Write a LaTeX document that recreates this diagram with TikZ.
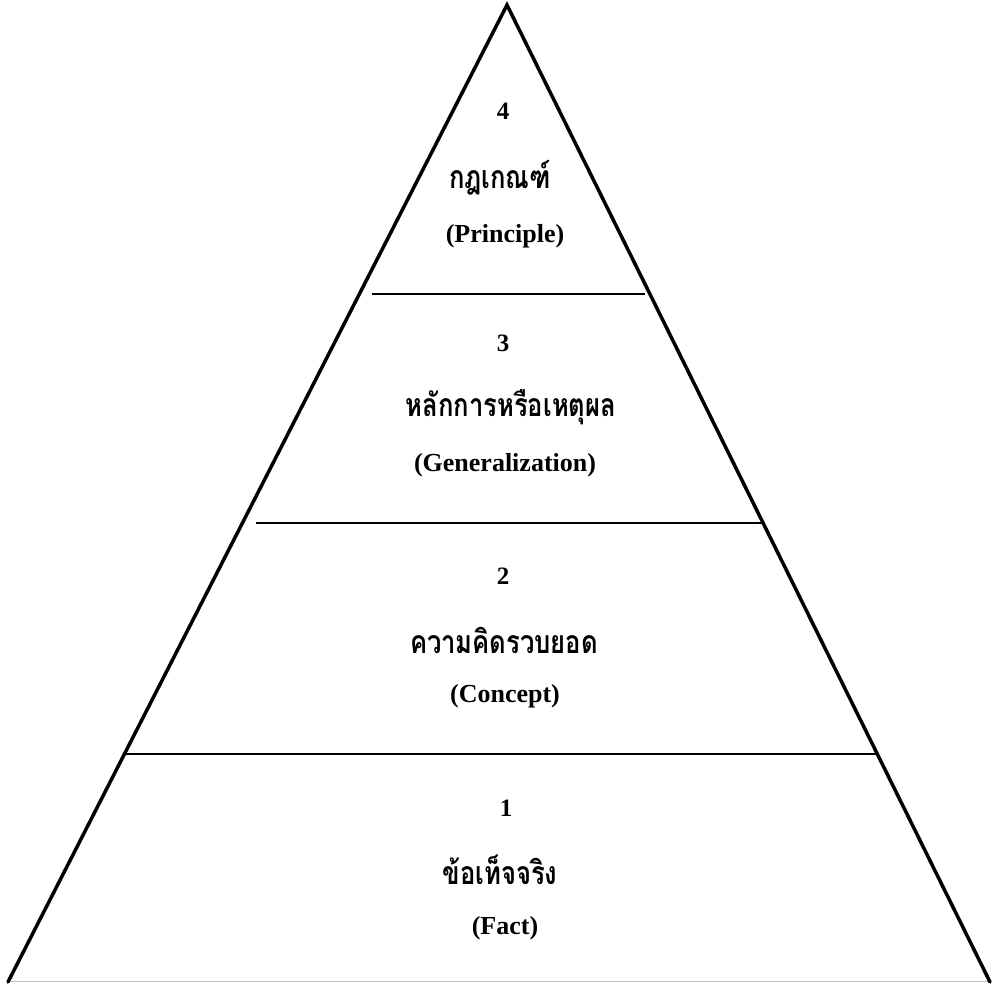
\documentclass[tikz,border=0pt]{standalone}
\usepackage{fontspec}
\setmainfont{Liberation Serif}
\newfontfamily\thaifont[Script=Thai,FakeStretch=0.8]{Loma}
\begin{document}
\begin{tikzpicture}[x=1pt,y=1pt,
  side/.style={line width=3.5pt,line join=miter,line cap=round},
  level/.style={line width=2.6pt},
  baseline/.style={line width=1pt,draw=black!25},
  num/.style={font=\fontsize{25}{28}\selectfont\bfseries,inner sep=0pt},
  thai/.style={font=\fontsize{32}{36}\selectfont\thaifont\bfseries,inner sep=0pt},
  eng/.style={font=\fontsize{26}{30}\selectfont\bfseries,inner sep=0pt}]
\useasboundingbox (0,0) rectangle (993,984);
\coordinate (apex) at (507,979);
\coordinate (bl) at (8,2);
\coordinate (br) at (990,2);
\draw[baseline] (bl) -- (br);
\draw[side] (bl) -- (apex) -- (br);
\coordinate (l4a) at (372,690); \coordinate (l4b) at (645,690);
\coordinate (l3a) at (256,461); \coordinate (l3b) at (762,461);
\coordinate (l2a) at (126,230); \coordinate (l2b) at (876,230);
\draw[level] (l4a) -- (l4b);
\draw[level] (l3a) -- (l3b);
\draw[level] (l2a) -- (l2b);
\node[num] (n4) at (503,873) {4};
\node[thai] (t4) at (500,806) {กฎเกณฑ์};
\node[eng] (e4) at (505,748) {(Principle)};
\node[num] (n3) at (503,641) {3};
\node[thai] (t3) at (511,577) {หลักการหรือเหตุผล};
\node[eng] (e3) at (505,519) {(Generalization)};
\node[num] (n2) at (503,408) {2};
\node[thai] (t2) at (504,344) {ความคิดรวบยอด};
\node[eng] (e2) at (505,288) {(Concept)};
\node[num] (n1) at (506,176) {1};
\node[thai] (t1) at (500,114) {ข้อเท็จจริง};
\node[eng] (e1) at (505,56) {(Fact)};
\end{tikzpicture}
\end{document}
